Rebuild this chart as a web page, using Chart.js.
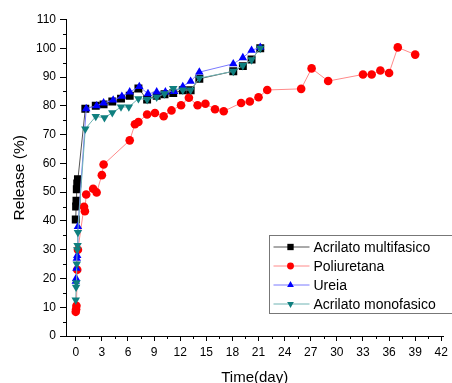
<!DOCTYPE html>
<html>
<head>
<meta charset="utf-8">
<script src="https://cdn.jsdelivr.net/npm/chart.js@4/dist/chart.umd.min.js"></script>
<style>
  html, body { margin: 0; padding: 0; background: #fff; }
  #wrap { width: 452px; height: 383px; position: relative; }
</style>
</head>
<body>
<div id="wrap"><canvas id="chart" width="452" height="383"></canvas></div>
<script>
var seriesNames = ['Acrilato multifasico', 'Poliuretana', 'Ureia', 'Acrilato monofasico'];

var multiDays = [0, 0.04, 0.08, 0.12, 0.17, 0.25, 1.1, 2.3, 3.2, 4.2, 5.2, 6.2, 7.2, 8.2, 9.3, 10.2, 11.2, 12.3, 13.2, 14.2, 18.1, 19.2, 20.2, 21.2];
var multiRelease = [40.5, 45, 47, 51, 53, 54.5, 79, 80, 80.5, 81.5, 82.5, 83.5, 86, 82.2, 83.5, 84, 84.4, 85.4, 85.4, 89.4, 92, 93.8, 96.1, 100];

var poliDays = [0, 0.04, 0.08, 0.17, 0.25, 0.95, 1.05, 1.2, 2.0, 2.4, 3.0, 3.2, 6.2, 6.8, 7.2, 8.2, 9.1, 10.1, 11.0, 12.1, 13.0, 14.0, 14.9, 16.0, 17.0, 19.0, 20.0, 21.0, 22.0, 25.9, 27.1, 29.0, 33.0, 34.0, 35.0, 36.0, 37.0, 39.0];
var poliRelease = [8.4, 9.3, 10.5, 23, 30, 44.9, 43.4, 49.2, 51.2, 49.9, 55.9, 59.6, 68, 73.6, 74.4, 77, 77.5, 76.4, 78.4, 80.2, 82.8, 80.2, 80.7, 78.8, 78.1, 81, 81.5, 83, 85.5, 85.9, 93, 88.6, 90.9, 90.9, 92.3, 91.4, 100.3, 97.8];

var ureiaDays = [0, 0.04, 0.08, 0.12, 0.17, 0.25, 1.2, 2.4, 3.2, 4.3, 5.3, 6.2, 7.3, 8.3, 9.3, 10.3, 11.3, 12.3, 13.2, 14.2, 18.1, 19.2, 20.2, 21.2];
var ureiaRelease = [19, 20, 23.5, 27, 28, 38, 79, 80, 81, 82, 83.3, 84.8, 86.7, 84.2, 84.8, 84.8, 85, 86.7, 88.5, 91.7, 94.6, 96.7, 99.3, 100.3];

var monoDays = [0, 0.04, 0.08, 0.12, 0.17, 0.21, 0.25, 1.1, 2.3, 3.3, 4.2, 5.2, 6.1, 7.2, 8.2, 9.3, 10.2, 11.2, 12.3, 13.2, 14.2, 18.1, 19.2, 20.2, 21.2];
var monoRelease = [12.5, 17, 18.5, 25, 30, 31.5, 36, 72, 76.3, 75.9, 77.6, 79.6, 79.6, 82.5, 82.2, 83, 84.2, 86, 85.5, 85.5, 89.6, 92, 94, 96, 100];

var xTicksMajor = [0, 3, 6, 9, 12, 15, 18, 21, 24, 27, 30, 33, 36, 39, 42];
var yTicksMajor = [0, 10, 20, 30, 40, 50, 60, 70, 80, 90, 100, 110];

function toPoints(xs, ys) {
  return xs.map(function (x, i) { return { x: x, y: ys[i] }; });
}

var FONT = '"Liberation Sans", Arial, sans-serif';

var styles = [
  { marker: '#000000', line: '#555555', style: 'rect', radius: 5.6, rotation: 0, order: 4 },
  { marker: '#ff0000', line: '#ff8a8a', style: 'circle', radius: 4.3, rotation: 0, order: 3 },
  { marker: '#0000ff', line: '#7a7aff', style: 'triangle', radius: 4.9, rotation: 0, order: 2 },
  { marker: '#0f7f7f', line: '#6fb3b3', style: 'triangle', radius: 4.9, rotation: 180, order: 1 }
];

var seriesData = [
  toPoints(multiDays, multiRelease),
  toPoints(poliDays, poliRelease),
  toPoints(ureiaDays, ureiaRelease),
  toPoints(monoDays, monoRelease)
];

var datasets = seriesNames.map(function (name, i) {
  var s = styles[i];
  return {
    label: name,
    data: seriesData[i],
    borderColor: s.line,
    borderWidth: 1,
    backgroundColor: s.marker,
    pointBackgroundColor: s.marker,
    pointBorderColor: s.marker,
    pointBorderWidth: 0,
    pointStyle: s.style,
    pointRadius: s.radius,
    pointRotation: s.rotation,
    pointHoverRadius: s.radius,
    tension: 0,
    order: s.order
  };
});

// minor ticks and the boxed legend, Origin style
var extras = {
  id: 'extras',
  afterDraw: function (chart) {
    var ctx = chart.ctx;
    var xs = chart.scales.x, ys = chart.scales.y;
    ctx.save();
    ctx.strokeStyle = '#000';
    ctx.lineWidth = 1;
    ctx.beginPath();
    for (var v = 1.5; v < xs.max; v += 3) {
      var px = Math.round(xs.getPixelForValue(v)) + 0.5;
      ctx.moveTo(px, xs.top);
      ctx.lineTo(px, xs.top + 3);
    }
    for (var w = 5; w < ys.max; w += 10) {
      var py = Math.round(ys.getPixelForValue(w)) + 0.5;
      ctx.moveTo(ys.right, py);
      ctx.lineTo(ys.right - 3, py);
    }
    ctx.stroke();

    // legend
    var bx = 269.5, by = 235.5, bw = 190, bh = 78;
    ctx.strokeStyle = '#777';
    ctx.strokeRect(bx, by, bw, bh);
    ctx.font = '14px ' + FONT;
    ctx.textBaseline = 'middle';
    ctx.fillStyle = '#000';
    seriesNames.forEach(function (name, i) {
      var s = styles[i];
      var ry = by + 11.5 + i * 19;
      ctx.strokeStyle = s.line;
      ctx.beginPath();
      ctx.moveTo(bx + 4, ry);
      ctx.lineTo(bx + 40, ry);
      ctx.stroke();
      ctx.fillStyle = s.marker;
      Chart.helpers.drawPoint(ctx, {
        pointStyle: s.style,
        radius: s.radius * 0.8,
        rotation: s.rotation,
        borderWidth: 0
      }, bx + 21, ry);
      ctx.fillStyle = '#000';
      ctx.fillText(name, bx + 44, ry + 1);
    });
    ctx.restore();
  }
};

new Chart(document.getElementById('chart').getContext('2d'), {
  type: 'line',
  data: { datasets: datasets },
  plugins: [extras],
  options: {
    responsive: false,
    animation: false,
    events: [],
    layout: { padding: { top: 19.5, right: 0, left: 0, bottom: 0 } },
    plugins: {
      legend: { display: false },
      tooltip: { enabled: false }
    },
    scales: {
      x: {
        type: 'linear',
        min: -1.12,
        max: 42.25,
        afterFit: function (scale) { scale.height = 47; },
        afterBuildTicks: function (scale) {
          scale.ticks = xTicksMajor.map(function (v) { return { value: v }; });
        },
        border: { display: true, color: '#000', width: 1 },
        grid: { drawOnChartArea: false, drawTicks: true, tickLength: 5, tickColor: '#000' },
        ticks: {
          color: '#000',
          padding: 4,
          maxRotation: 0,
          autoSkip: false,
          font: { family: FONT, size: 12 }
        },
        title: {
          display: true,
          text: 'Time(day)',
          color: '#000',
          font: { family: FONT, size: 15, lineHeight: 1 },
          padding: { top: 0, bottom: -2 }
        }
      },
      y: {
        type: 'linear',
        min: 0,
        max: 110,
        afterFit: function (scale) { scale.width = 66; },
        afterBuildTicks: function (scale) {
          scale.ticks = yTicksMajor.map(function (v) { return { value: v }; });
        },
        border: { display: true, color: '#000', width: 1 },
        grid: { drawOnChartArea: false, drawTicks: true, tickLength: 6, tickColor: '#000' },
        ticks: {
          color: '#000',
          padding: 4,
          autoSkip: false,
          font: { family: FONT, size: 12 }
        },
        title: {
          display: true,
          text: 'Release (%)',
          color: '#000',
          font: { family: FONT, size: 15.5, lineHeight: 1.2 },
          padding: { top: 10, bottom: 0 }
        }
      }
    }
  }
});
</script>
</body>
</html>
